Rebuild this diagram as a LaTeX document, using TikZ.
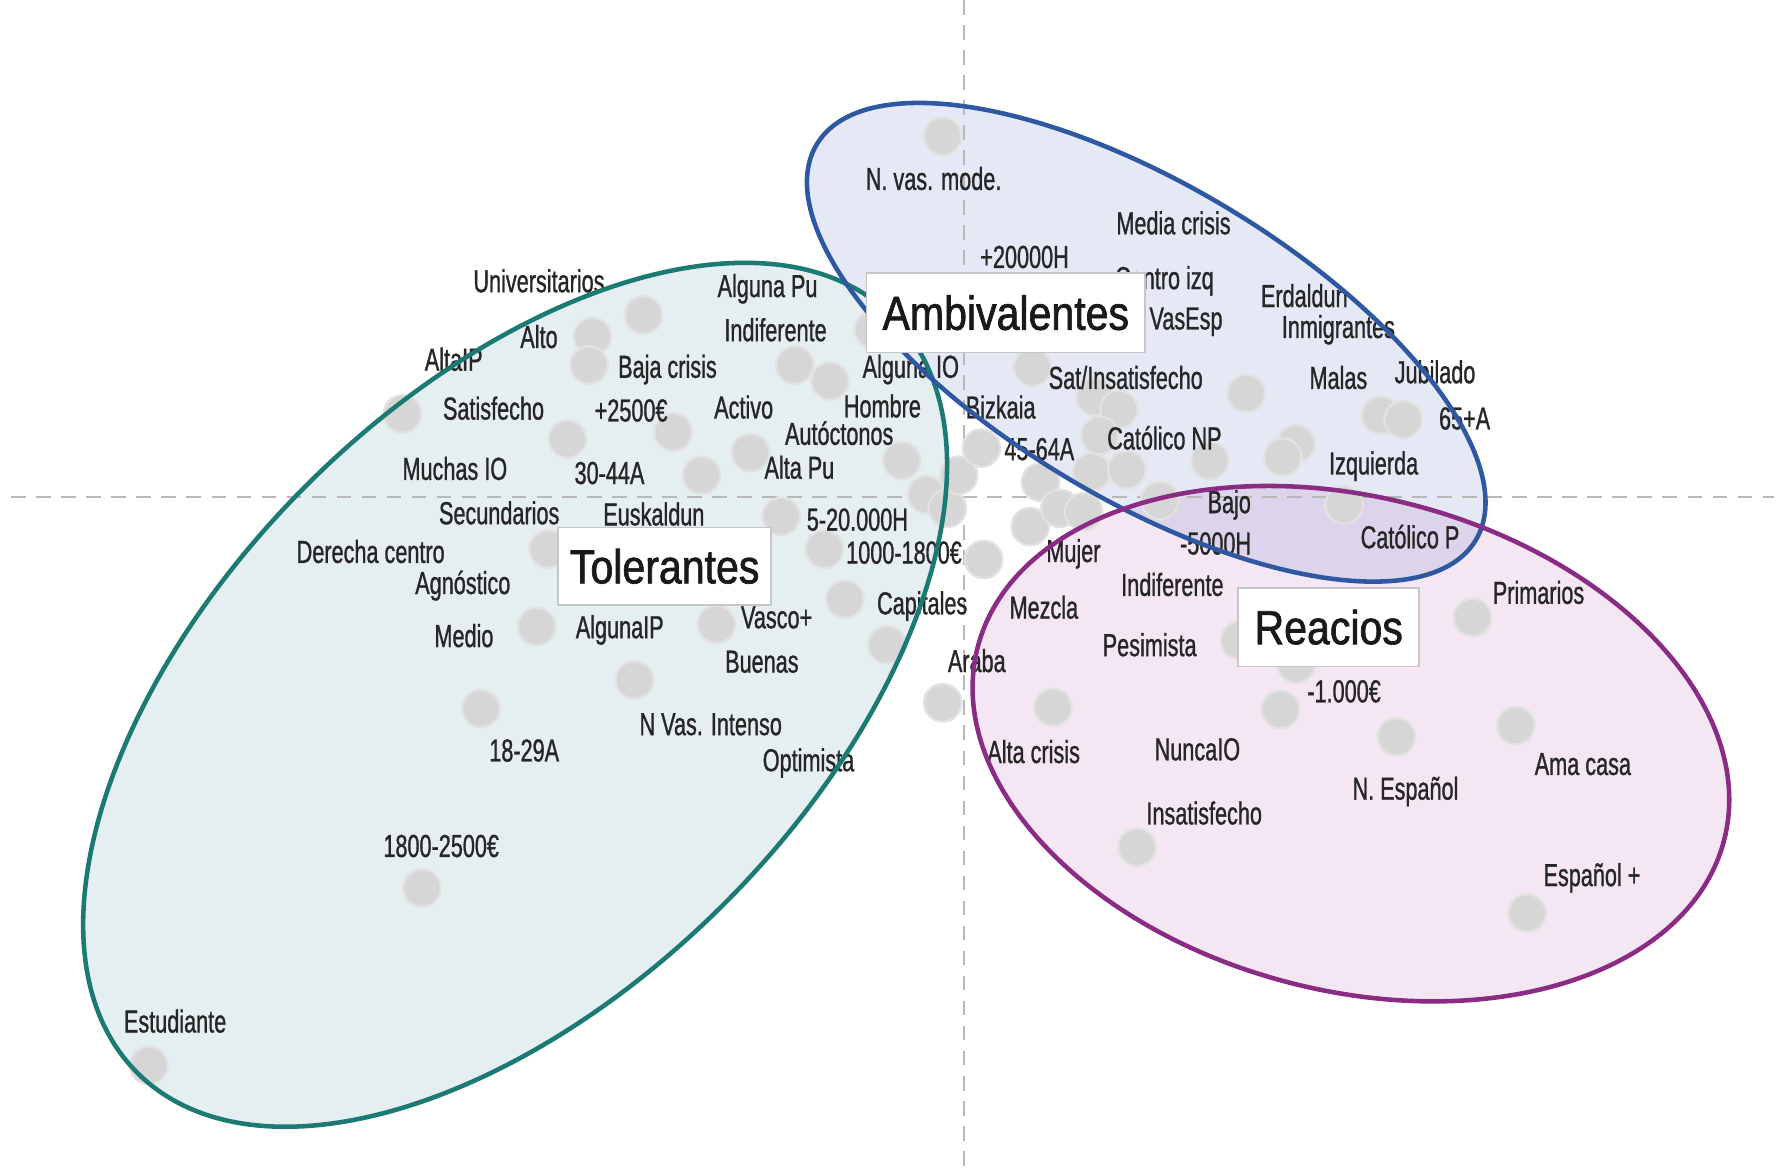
\documentclass[tikz,border=0pt]{standalone}
\usepackage{fontspec}
\newfontfamily\lblfont[FakeStretch=0.68,FakeBold=0.9]{Liberation Sans}
\newfontfamily\ttlfont[FakeStretch=0.86,FakeBold=1.4]{Liberation Sans}
\definecolor{tealline}{HTML}{1B7A73}
\definecolor{blueline}{HTML}{2E58A1}
\definecolor{pinkline}{HTML}{8A2B84}
\definecolor{tealfill}{HTML}{E5EEF0}
\definecolor{bluefill}{HTML}{E5E8F5}
\definecolor{pinkfill}{HTML}{F4E6F2}
\definecolor{mixfill}{HTML}{DCD4EB}
\definecolor{dotfill}{HTML}{D6D6D6}
\definecolor{dotedge}{HTML}{E2E2E2}
\definecolor{axisgray}{HTML}{B8B8B8}
\definecolor{lbltext}{HTML}{262626}
\tikzset{
  ellT/.style={shift={(453,611)},rotate=45},
  ellB/.style={shift={(1008,301)},rotate=-31},
  ellP/.style={shift={(1188,654)},rotate=-14.5},
  axisline/.style={draw=axisgray,line width=2pt,dash pattern=on 13pt off 9pt},
  dotc/.style={circle,minimum size=33pt,inner sep=0pt,fill=dotfill,draw=dotedge,line width=2pt},
  lbl/.style={inner sep=0pt,text=lbltext,font=\lblfont\fontsize{28}{30}\selectfont},
  ttl/.style={fill=white,draw=gray!45,line width=1.5pt,inner sep=0pt,text=black!90,
    font=\ttlfont\fontsize{42}{46}\selectfont}
}
\begin{document}
\begin{tikzpicture}[x=1pt,y=-1pt]
\useasboundingbox (0,0) rectangle (1568,1032);
\fill[white] (0,0) rectangle (1568,1032);
% fills
\fill[tealfill,ellT] (0,0) ellipse [x radius=470pt,y radius=260pt];
\fill[bluefill,ellB] (0,0) ellipse [x radius=338pt,y radius=138pt];
\fill[pinkfill,ellP] (0,0) ellipse [x radius=339pt,y radius=217pt];
\begin{scope}
  \clip[ellB] (0,0) ellipse [x radius=338pt,y radius=138pt];
  \fill[mixfill,ellP] (0,0) ellipse [x radius=339pt,y radius=217pt];
\end{scope}
% axes
\coordinate (vtop) at (848,0);
\coordinate (vbot) at (848,1032);
\coordinate (hleft) at (10,437);
\coordinate (hright) at (1560,437);
\draw[axisline] (vtop) -- (vbot);
\draw[axisline] (hleft) -- (hright);
% dots
\foreach \x/\y [count=\i] in {
 566/277,521/296,518/321,354/364,699/321,730/335,499/386,592/380,617/418,660/398,
 793/405,687/454,725/483,482/483,472/551,630/549,743/527,780/567,558/598,423/623,
 371/781,131/937,768/290,
 815/435,833/447,843/418,863/394,915/424,906/463,865/492,932/447,953/450,960/415,
 991/413,963/349,984/360,967/383,1020/440,908/323,829/120,829/618,
 1096/346,1214/365,1234/369,1140/390,1128/402,1064/405,1182/444,
 1295/543,1140/584,1090/563,1126/624,1228/648,1333/638,1343/803,1000/745,926/622}
 \node[dotc] (d\i) at (\x,\y) {};
% labels
\node[lbl] (t1) at (474,247) {Universitarios};
\node[lbl] (t2) at (675,254) {Alguna Pu};
\node[lbl] (t3) at (682,290) {Indiferente};
\node[lbl] (t4) at (399,316) {AltaIP};
\node[lbl] (t5) at (474,296) {Alto};
\node[lbl] (t6) at (587,325) {Baja crisis};
\node[lbl] (t7) at (801,325) {Alguna IO};
\node[lbl] (t8) at (434,359) {Satisfecho};
\node[lbl] (t9) at (555,361) {+2500€};
\node[lbl] (t10) at (654,358) {Activo};
\node[lbl] (t11) at (776,357) {Hombre};
\node[lbl] (t12) at (738,381) {Autóctonos};
\node[lbl] (t13) at (400,412) {Muchas IO};
\node[lbl] (t14) at (536,416) {30-44A};
\node[lbl] (t15) at (703,411) {Alta Pu};
\node[lbl] (t16) at (439,451) {Secundarios};
\node[lbl] (t17) at (575,452) {Euskaldun};
\node[lbl] (t18) at (754,457) {5-20.000H};
\node[lbl] (t19) at (795,486) {1000-1800€};
\node[lbl] (t20) at (326,485) {Derecha centro};
\node[lbl] (t21) at (407,515) {Agnóstico};
\node[lbl] (t22) at (408,559) {Medio};
\node[lbl] (t23) at (545,554) {AlgunaIP};
\node[lbl] (t24) at (683,543) {Vasco+};
\node[lbl] (t25) at (670,582) {Buenas};
\node[lbl] (t26) at (811,533) {Capitales};
\node[lbl] (t27) at (625,637) {N Vas. Intenso};
\node[lbl] (t28) at (711,671) {Optimista};
\node[lbl] (t29) at (461,660) {18-29A};
\node[lbl] (t30) at (388,744) {1800-2500€};
\node[lbl] (t31) at (154,898) {Estudiante};
\node[lbl] (t32) at (821,157) {N. vas. mode.};
\node[lbl] (t33) at (1032,196) {Media crisis};
\node[lbl] (t34) at (901,226) {+20000H};
\node[lbl] (t35) at (1024,247) {Centro izq};
\node[lbl] (t36) at (1043,283) {VasEsp};
\node[lbl] (t37) at (1147,260) {Erdaldun};
\node[lbl] (t38) at (1177,290) {Inmigrantes};
\node[lbl] (t39) at (1177,332) {Malas};
\node[lbl] (t40) at (1262,327) {Jubilado};
\node[lbl] (t41) at (1288,368) {65+A};
\node[lbl] (t42) at (990,332) {Sat/Insatisfecho};
\node[lbl] (t43) at (880,358) {Bizkaia};
\node[lbl] (t44) at (914,395) {45-64A};
\node[lbl] (t45) at (1024,385) {Católico NP};
\node[lbl] (t46) at (1208,410) {Izquierda};
\node[lbl] (t47) at (1081,444) {Bajo};
\node[lbl] (t48) at (1069,478) {-5000H};
\node[lbl] (t49) at (1240,472) {Católico P};
\node[lbl] (t50) at (944,487) {Mujer};
\node[lbl] (t51) at (1031,514) {Indiferente};
\node[lbl] (t52) at (918,534) {Mezcla};
\node[lbl] (t53) at (1011,567) {Pesimista};
\node[lbl] (t54) at (859,581) {Araba};
\node[lbl] (t55) at (1353,521) {Primarios};
\node[lbl] (t56) at (1182,608) {-1.000€};
\node[lbl] (t57) at (909,661) {Alta crisis};
\node[lbl] (t58) at (1053,659) {NuncaIO};
\node[lbl] (t59) at (1236,696) {N. Español};
\node[lbl] (t60) at (1392,672) {Ama casa};
\node[lbl] (t61) at (1059,715) {Insatisfecho};
\node[lbl] (t62) at (1400,772) {Español +};
% outlines
\draw[tealline,line width=4pt,ellT] (0,0) ellipse [x radius=470pt,y radius=260pt];
\draw[blueline,line width=4pt,ellB] (0,0) ellipse [x radius=338pt,y radius=138pt];
\draw[pinkline,line width=4pt,ellP] (0,0) ellipse [x radius=339pt,y radius=217pt];
% group titles
\node[ttl,minimum width=187pt,minimum height=68pt] (tol) at (584.5,498) {Tolerantes};
\node[ttl,minimum width=245pt,minimum height=70pt] (amb) at (884.5,275) {Ambivalentes};
\node[ttl,minimum width=159pt,minimum height=69pt] (rea) at (1168.5,551.5) {Reacios};
\end{tikzpicture}
\end{document}
